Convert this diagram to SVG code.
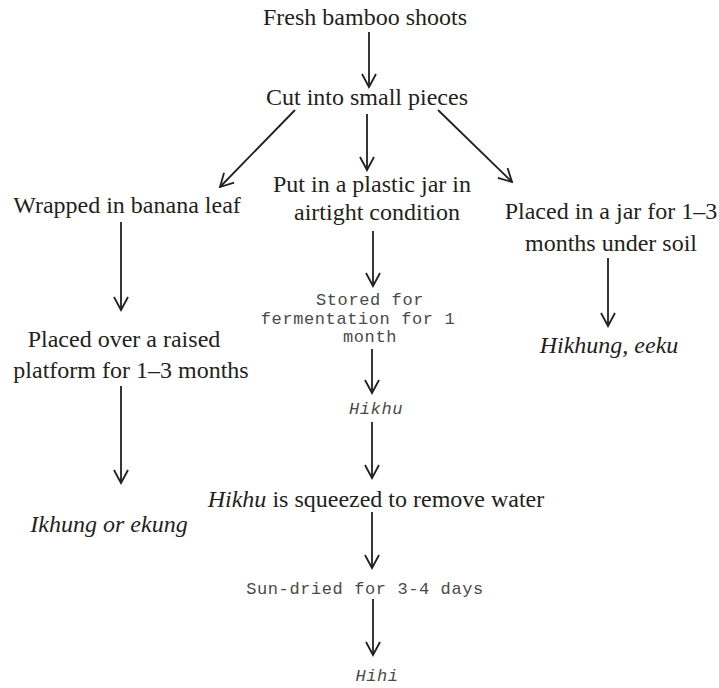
<svg xmlns="http://www.w3.org/2000/svg" width="719" height="688" viewBox="0 0 719 688">
<defs>
<marker id="ah" viewBox="0 0 16 16" refX="14" refY="8" markerWidth="16" markerHeight="16" markerUnits="userSpaceOnUse" orient="auto">
<path d="M1,1 L14,8 L1,15" fill="none" stroke="#231f20" stroke-width="1.8"/>
</marker>
<style>
.s{font-family:"Liberation Serif","Times New Roman",serif;font-size:24px;fill:#231f20;text-anchor:middle}
.i{font-style:italic}
.m{font-family:"Liberation Mono","Courier New",monospace;font-size:17px;letter-spacing:0.6px;fill:#4a4a4a;text-anchor:middle}
.c line{stroke:#231f20;stroke-width:1.8;marker-end:url(#ah)}
</style>
</defs>
<rect width="719" height="688" fill="#fff"/>
<g id="n-fresh"><text class="s" x="365" y="25">Fresh bamboo shoots</text></g>
<g id="n-cut"><text class="s" x="367" y="105">Cut into small pieces</text></g>
<g id="n-wrapped"><text class="s" x="127" y="213">Wrapped in banana leaf</text></g>
<g id="n-put"><text class="s" x="372" y="192">Put in a plastic jar in</text><text class="s" x="377" y="220">airtight condition</text></g>
<g id="n-jar"><text class="s" x="611" y="219">Placed in a jar for 1–3</text><text class="s" x="611" y="251">months under soil</text></g>
<g id="n-platform"><text class="s" x="124" y="347">Placed over a raised</text><text class="s" x="131" y="378">platform for 1–3 months</text></g>
<g id="n-stored"><text class="m" x="370" y="305">Stored for</text><text class="m" x="358" y="323.5">fermentation for 1</text><text class="m" x="370" y="342">month</text></g>
<g id="n-hikhung"><text class="s i" x="609" y="353">Hikhung, eeku</text></g>
<g id="n-hikhu"><text class="m i" x="376" y="414">Hikhu</text></g>
<g id="n-ikhung"><text class="s i" x="109" y="532">Ikhung or ekung</text></g>
<g id="n-squeezed"><text class="s" x="376" y="507"><tspan class="i">Hikhu</tspan> is squeezed to remove water</text></g>
<g id="n-sundried"><text class="m" x="365" y="594">Sun-dried for 3-4 days</text></g>
<g id="n-hihi"><text class="m i" x="377" y="681">Hihi</text></g>
<g id="connectors" class="c">
<line x1="369" y1="32" x2="369" y2="87"/>
<line x1="295" y1="110" x2="220" y2="187"/>
<line x1="367" y1="114" x2="367" y2="170"/>
<line x1="438" y1="110" x2="512" y2="182"/>
<line x1="121" y1="222" x2="121" y2="310"/>
<line x1="121" y1="386" x2="121" y2="483"/>
<line x1="373" y1="231" x2="373" y2="286"/>
<line x1="372" y1="349" x2="372" y2="393"/>
<line x1="372" y1="422" x2="372" y2="478"/>
<line x1="372" y1="512" x2="372" y2="568"/>
<line x1="373" y1="599" x2="373" y2="655"/>
<line x1="608" y1="258" x2="608" y2="326"/>
</g>
</svg>
